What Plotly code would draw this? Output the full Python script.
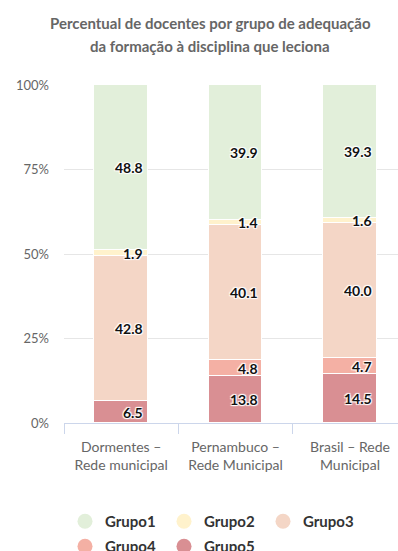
import plotly.graph_objects as go

# Categories and group shares (%)
categorias = ["Dormentes –<br>Rede municipal", "Pernambuco –<br>Rede Municipal", "Brasil – Rede<br>Municipal"]
grupos = ["Grupo1", "Grupo2", "Grupo3", "Grupo4", "Grupo5"]
grupo1 = [48.8, 39.9, 39.3]
grupo2 = [1.9, 1.4, 1.6]
grupo3 = [42.8, 40.1, 40.0]
grupo4 = [0.0, 4.8, 4.7]
grupo5 = [6.5, 13.8, 14.5]
cores = ["#e2efda", "#fff2cc", "#f4d6c6", "#f4b0a4", "#d98f93"]
y_ticks = [0, 25, 50, 75, 100]
y_tick_text = ["0%", "25%", "50%", "75%", "100%"]
titulo = ["Percentual de docentes por grupo de adequação",
          "da formação à disciplina que leciona"]

series = [grupo1, grupo2, grupo3, grupo4, grupo5]
FONT = "Lato, Roboto, sans-serif"
W, H = 398, 551
ML, MR, MT, MB = 64, 0, 85, 128
PW, PH = W - ML - MR, H - MT - MB


def px_to_paper(x, y):
    """Pixel position on the page -> paper coordinates of the plot area."""
    return (x - ML) / PW, (H - MB - y) / PH


fig = go.Figure()

# Stack from bottom (Grupo5) to top (Grupo1)
stack_order = [4, 3, 2, 1, 0]
for i in stack_order:
    fig.add_trace(go.Bar(
        x=categorias, y=series[i], name=grupos[i],
        marker=dict(color=cores[i], line=dict(color="white", width=1)),
        width=0.47, showlegend=False, hoverinfo="skip",
    ))

# Legend entries drawn as circles: first three on one row, last two below
for i in range(5):
    fig.add_trace(go.Scatter(
        x=[None], y=[None], mode="markers", name=grupos[i],
        marker=dict(color=cores[i], size=15, symbol="circle"),
        showlegend=True, legend="legend" if i < 3 else "legend2",
    ))

# Value labels, right-aligned in each segment
annotations = []
for c, cat in enumerate(categorias):
    base = 0.0
    for i in stack_order:
        v = series[i][c]
        if v > 0:
            annotations.append(dict(
                x=cat, y=base + v / 2, xref="x", yref="y",
                text=f"<b>{v:.1f}</b>", showarrow=False,
                xanchor="right", yanchor="middle", xshift=24,
                font=dict(family=FONT, size=14, color="#111",
                          shadow="1px 1px 1px #fff, -1px -1px 1px #fff, 1px -1px 1px #fff, -1px 1px 1px #fff"),
            ))
        base += v

# Two-line title
for k, linha in enumerate(titulo):
    tx, ty = px_to_paper(210, 23 + 23 * k)
    annotations.append(dict(
        x=tx, y=ty, xref="paper", yref="paper",
        text=f"<b>{linha}</b>", showarrow=False,
        xanchor="center", yanchor="middle",
        font=dict(family=FONT, size=15, color="#666666"),
    ))


def legend_row(top_px):
    lx, ly = px_to_paper(65, top_px)
    return dict(
        orientation="h", x=lx, xanchor="left", y=ly, yanchor="top",
        entrywidth=54, entrywidthmode="pixels", traceorder="normal",
        font=dict(family=FONT, size=15, color="#333333", weight="bold"),
        itemwidth=30, tracegroupgap=0, bgcolor="rgba(0,0,0,0)",
    )


fig.update_layout(
    width=W, height=H,
    margin=dict(l=ML, r=MR, t=MT, b=MB, autoexpand=False),
    paper_bgcolor="white", plot_bgcolor="white",
    barmode="stack", bargap=0,
    font=dict(family=FONT, color="#666666"),
    annotations=annotations,
    legend=legend_row(505),
    legend2=legend_row(530),
    showlegend=True,
)

fig.update_yaxes(
    range=[0, 100], tickvals=y_ticks, ticktext=y_tick_text,
    showgrid=True, gridcolor="#e6e6e6", gridwidth=1,
    zeroline=False, showline=False, ticks="",
    tickfont=dict(family=FONT, size=13, color="#666666"),
    ticklabelstandoff=14, automargin=False,
)
fig.update_xaxes(
    type="category", range=[-0.5, 2.42],
    showline=True, linecolor="#ccd6eb", linewidth=1,
    ticks="outside", tickson="boundaries", ticklen=10, tickcolor="#ccd6eb",
    tickfont=dict(family=FONT, size=14, color="#666666"),
    tickangle=0, automargin=False, ticklabelstandoff=11,
    showgrid=False,
)

fig.write_html("out.html")
